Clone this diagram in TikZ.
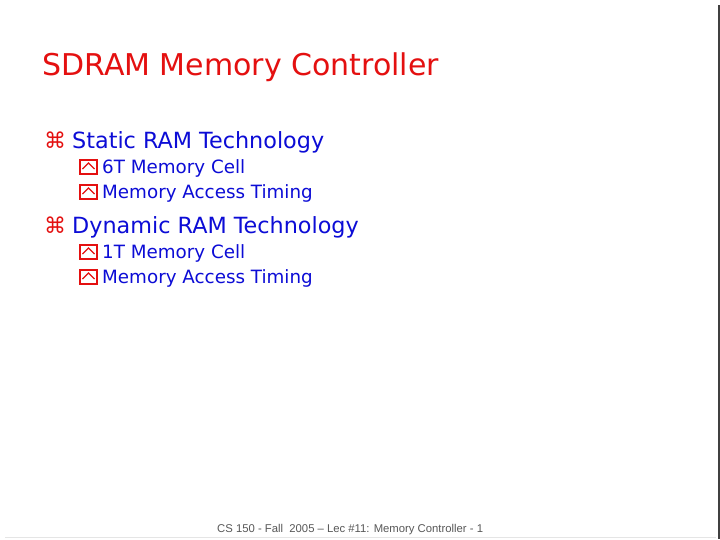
\documentclass[tikz,border=0pt]{standalone}
\usepackage{fontspec}
\setmainfont{DejaVu Sans}
\newfontfamily\footfont{Liberation Sans}
\usetikzlibrary{positioning}
\definecolor{titlered}{RGB}{228,16,16}
\definecolor{itemblue}{RGB}{12,12,214}
\definecolor{footgray}{RGB}{88,88,88}
\begin{document}
\begin{tikzpicture}[x=1pt,y=-1pt,
title/.style={anchor=base west,inner sep=0pt,text=titlered,font=\fontsize{30}{32}\selectfont},
itema/.style={anchor=base west,inner sep=0pt,text=itemblue,font=\fontsize{22.3}{24}\selectfont},
itemb/.style={anchor=base west,inner sep=0pt,text=itemblue,font=\fontsize{18.3}{20}\selectfont},
cmdsym/.style={anchor=base west,inner sep=0pt,text=titlered,font=\fontsize{22}{24}\selectfont},
foot/.style={anchor=base west,inner sep=0pt,text=footgray,font=\footfont\fontsize{11.3}{13}\selectfont},
boxbul/.pic={\draw[titlered,line width=1.1pt] (0,0) rectangle (17,-14);
\draw[titlered,line width=1.1pt] (2.5,-5) -- (8.5,-11) -- (14.5,-5);}]
\fill[white] (0,0) rectangle (720,539);
\useasboundingbox (0,0) rectangle (720,539);
\draw[black!10,line width=1pt] (5,537.5) -- (716,537.5);
\draw[black!75,line width=1.5pt] (719,5) -- (719,539);
\node[title] (ttl) at (42,75) {SDRAM Memory Controller};
% static RAM
\node[cmdsym] (cmda) at (44,148) {⌘};
\node[itema] (sram) at (72,148) {Static RAM Technology};
\pic (bula) at (80,174) {boxbul};
\node[itemb] (sramcell) at (102,173) {6T Memory Cell};
\pic (bulb) at (80,199) {boxbul};
\node[itemb] (sramtime) at (102,198) {Memory Access Timing};
% dynamic RAM
\node[cmdsym] (cmdb) at (44,233) {⌘};
\node[itema] (dram) at (72,233) {Dynamic RAM Technology};
\pic (bulc) at (80,259) {boxbul};
\node[itemb] (dramcell) at (102,258) {1T Memory Cell};
\pic (buld) at (80,284) {boxbul};
\node[itemb] (dramtime) at (102,283) {Memory Access Timing};
\node[foot] (ftr) at (217,532) {CS 150 - Fall\ \ 2005 – Lec \#11: Memory Controller - 1};
\end{tikzpicture}
\end{document}
